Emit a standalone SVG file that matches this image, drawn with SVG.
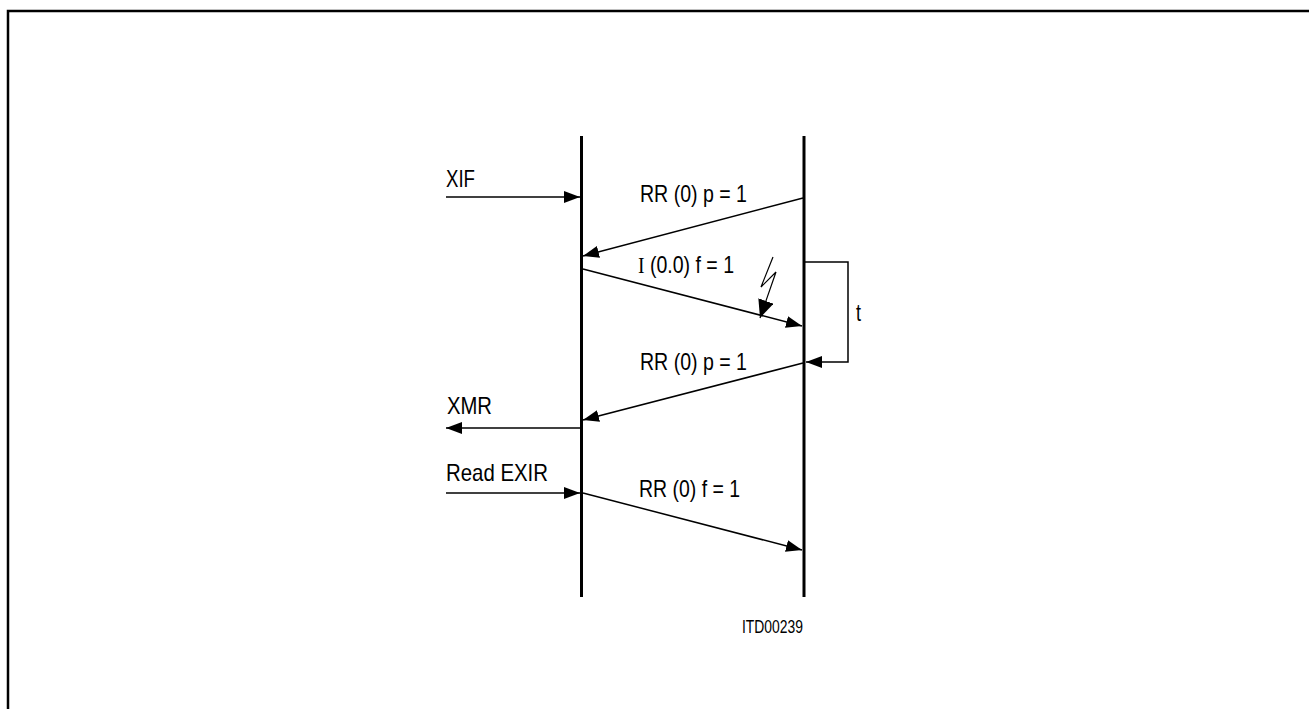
<svg xmlns="http://www.w3.org/2000/svg" width="1309" height="709" viewBox="0 0 1309 709">
<style>
.t{font-family:"Liberation Sans",Arial,sans-serif;font-size:24px;fill:#000}
.s{font-family:"Liberation Sans",Arial,sans-serif;font-size:18px;fill:#000}
.m{stroke:#000;stroke-width:1.5;fill:none}
.life{stroke:#000;stroke-width:3;fill:none}
.frame{stroke:#000;stroke-width:2.5;fill:none}
</style>
<defs>
<marker id="ah" markerUnits="userSpaceOnUse" viewBox="0 0 16 12" refX="16" refY="6" markerWidth="16" markerHeight="12" orient="auto">
<path d="M0,0 L16,6 L0,12 Z" fill="#000"/>
</marker>
<marker id="ah2" markerUnits="userSpaceOnUse" viewBox="0 0 18 16" refX="18" refY="8" markerWidth="18" markerHeight="16" orient="auto">
<path d="M0,0 L18,8 L0,16 Z" fill="#000"/>
</marker>
</defs>
<path class="frame" d="M8,709 V11 H1309"/>
<g id="lifeline-left"><line class="life" x1="581.5" y1="136" x2="581.5" y2="597"/></g>
<g id="lifeline-right"><line class="life" x1="804" y1="136" x2="804" y2="597"/></g>
<g id="connectors">
<line class="m" x1="446" y1="197" x2="580" y2="197" marker-end="url(#ah)"/>
<line class="m" x1="803" y1="198" x2="583" y2="256" marker-end="url(#ah)"/>
<line class="m" x1="583" y1="269" x2="802" y2="326" marker-end="url(#ah)"/>
<polyline class="m" style="stroke-width:1.2" points="773,257 761,287 776,272 760,318" marker-end="url(#ah2)"/>
<polyline class="m" points="805,262 848,262 848,362 806,362" marker-end="url(#ah)"/>
<line class="m" x1="803" y1="363" x2="583" y2="420" marker-end="url(#ah)"/>
<line class="m" x1="581" y1="428" x2="446" y2="428" marker-end="url(#ah)"/>
<line class="m" x1="446" y1="493" x2="580" y2="493" marker-end="url(#ah)"/>
<line class="m" x1="583" y1="493" x2="802" y2="550" marker-end="url(#ah)"/>
</g>
<g id="labels">
<text class="t" x="446" y="187" textLength="29" lengthAdjust="spacingAndGlyphs">XIF</text>
<text class="t" x="640" y="202" textLength="107" lengthAdjust="spacingAndGlyphs">RR (0) p = 1</text>
<text class="t" x="638" y="273" textLength="96" lengthAdjust="spacingAndGlyphs"><tspan font-family="Liberation Serif, serif">I</tspan> (0.0) f = 1</text>
<text class="t" x="856" y="321" textLength="5" lengthAdjust="spacingAndGlyphs">t</text>
<text class="t" x="640" y="370" textLength="107" lengthAdjust="spacingAndGlyphs">RR (0) p = 1</text>
<text class="t" x="447" y="414" textLength="45" lengthAdjust="spacingAndGlyphs">XMR</text>
<text class="t" x="446" y="481" textLength="102" lengthAdjust="spacingAndGlyphs">Read EXIR</text>
<text class="t" x="639" y="497" textLength="101" lengthAdjust="spacingAndGlyphs">RR (0) f = 1</text>
<text class="s" x="742" y="633" textLength="61" lengthAdjust="spacingAndGlyphs">ITD00239</text>
</g>
</svg>
